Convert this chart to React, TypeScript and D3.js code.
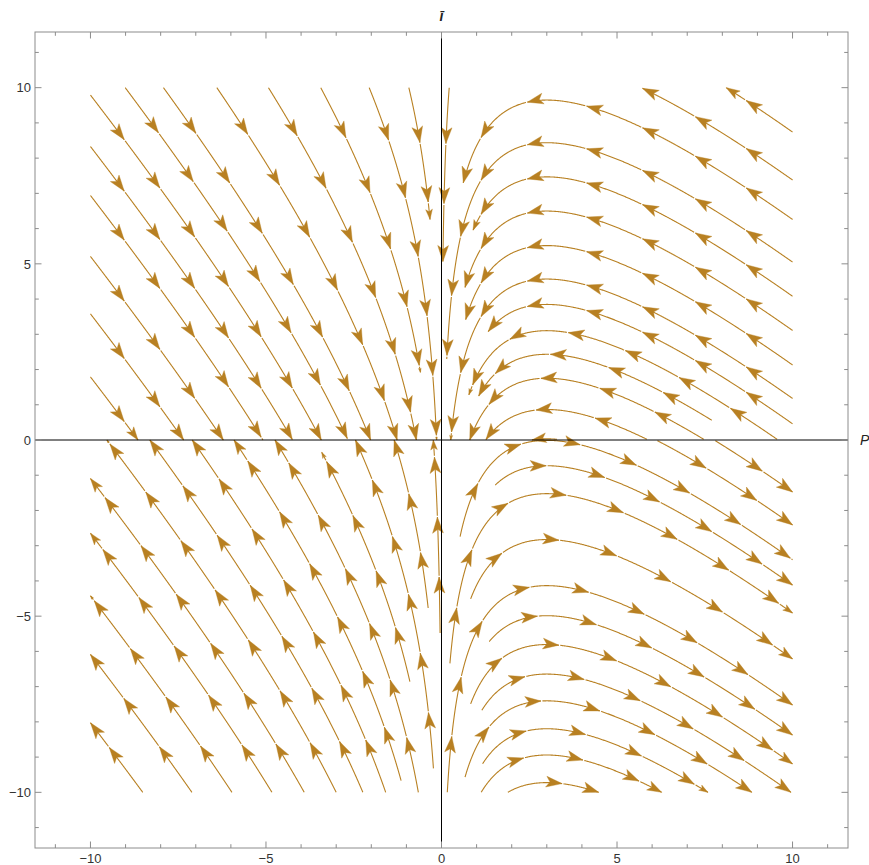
import React, { useEffect, useRef } from "react";
import * as d3 from "d3";

const W = 869;
const H = 865;
const frame = { left: 35, right: 848, top: 32, bottom: 848 };
const plotRange = 11.58; // both axes run from -plotRange to plotRange
const fieldBox = 10; // streamlines are drawn inside [-10, 10] x [-10, 10]
const streamColor = "#b88022";

const majorTicks = [-10, -5, 0, 5, 10];
const minorTicks = [-11, -9, -8, -7, -6, -4, -3, -2, -1, 1, 2, 3, 4, 6, 7, 8, 9, 11];
const tickLabels = ["\u221210", "\u22125", "0", "5", "10"];

// seed = [x tail, y tail, stop at x (or null), stop at y (or null)]
type Seed = [number, number, number | null, number | null];

const seedsUpperLeft: Seed[] = [
  [-10, 9.79, null, null],
  [-10, 8.33, null, null],
  [-10, 6.94, null, null],
  [-10, 5.21, null, null],
  [-10, 3.58, null, null],
  [-10, 1.79, null, null],
  [-9.01, 10, null, null],
  [-7.92, 10, null, null],
  [-6.4, 10, null, null],
  [-4.93, 10, null, null],
  [-3.44, 10, null, 1.92],
  [-2.06, 10, null, null],
  [-0.93, 10, null, 6.26],
];

const seedsUpperRight: Seed[] = [
  [10, 8.74, null, null],
  [10, 7.38, null, null],
  [10, 6.26, 0.62, null],
  [10, 5.05, 0.15, null],
  [10, 4.08, 0.9, null],
  [10, 3.11, 0.67, null],
  [10, 2.13, 0.69, null],
  [10, 1.18, null, null],
  [10, 0.46, 1.33, null],
  [9.56, 0.02, 0.78, null],
  [7.7, 0.56, 1.06, null],
  [7.47, 0.02, null, null],
  [5.85, 0.02, null, null],
  [3.29, 0.02, null, null],
  [0.22, 10, 0.04, null],
];

const seedsLowerLeft: Seed[] = [
  [-8.51, -10, null, null],
  [-7.11, -10, null, null],
  [-5.97, -10, null, null],
  [-4.83, -10, null, null],
  [-3.91, -10, null, null],
  [-3.0, -10, null, null],
  [-2.24, -10, null, null],
  [-1.59, -10, null, null],
  [-0.66, -10, null, null],
  [-1.15, -9.67, null, null],
  [-0.23, -9.32, null, null],
  [-0.9, -6.86, null, -0.35],
  [-0.38, -4.77, null, null],
  [-0.04, -5.48, null, null],
];

const seedsLowerRight: Seed[] = [
  [7.8, -0.02, null, null],
  [6.15, -0.02, null, null],
  [0.53, -2.74, null, null],
  [1.53, -1.28, null, null],
  [0.24, -6.34, null, null],
  [0.83, -4.51, null, null],
  [0.165, -10, null, null],
  [1.36, -5.72, null, null],
  [0.83, -7.49, null, null],
  [1.15, -7.67, null, null],
  [0.67, -9.57, null, null],
  [1.17, -9.19, null, null],
  [1.13, -10, null, null],
  [1.89, -10, null, null],
];

// dP/dt = -P i,  di/dt = i (P - 3)
const velocity = (x: number, y: number): [number, number] => [-x * y, y * (x - 3)];

function trace(seed: Seed): [number, number][] {
  const [x0, y0, ex, ey] = seed;
  const side = y0 >= 0 ? 1 : -1;
  // the field is y * g(x): the direction only depends on x and the side of the axis
  const dir = (x: number): [number, number] => {
    const [a, b] = velocity(x, side);
    const n = Math.hypot(a, b) || 1;
    return [a / n, b / n];
  };
  const h = 0.02;
  const pts: [number, number][] = [[x0, y0]];
  let x = x0;
  let y = y0;
  for (let i = 0; i < 4000; i++) {
    const k1 = dir(x);
    const k2 = dir(x + (h / 2) * k1[0]);
    const k3 = dir(x + (h / 2) * k2[0]);
    const k4 = dir(x + h * k3[0]);
    const nx = x + (h / 6) * (k1[0] + 2 * k2[0] + 2 * k3[0] + k4[0]);
    const ny = y + (h / 6) * (k1[1] + 2 * k2[1] + 2 * k3[1] + k4[1]);
    let t = 1;
    const cut = (a: number, b: number, v: number) => {
      if ((a - v) * (b - v) < 0 || b === v) t = Math.min(t, (v - a) / (b - a));
    };
    if (Math.abs(nx) > fieldBox) cut(x, nx, Math.sign(nx) * fieldBox);
    if (Math.abs(ny) > fieldBox) cut(y, ny, Math.sign(ny) * fieldBox);
    if (side * ny <= 0) cut(y, ny, 0);
    if (ex !== null) cut(x, nx, ex);
    if (ey !== null) cut(y, ny, ey);
    if (t < 1) {
      pts.push([x + t * (nx - x), y + t * (ny - y)]);
      break;
    }
    x = nx;
    y = ny;
    pts.push([x, y]);
  }
  return pts;
}

export default function App() {
  const ref = useRef<SVGSVGElement | null>(null);

  useEffect(() => {
    const svg = d3.select(ref.current);
    svg.selectAll("*").remove();

    const xs = d3.scaleLinear().domain([-plotRange, plotRange]).range([frame.left, frame.right]);
    const ys = d3.scaleLinear().domain([-plotRange, plotRange]).range([frame.bottom, frame.top]);

    const g = svg.append("g");

    // streamlines
    const allSeeds = [...seedsUpperLeft, ...seedsUpperRight, ...seedsLowerLeft, ...seedsLowerRight];
    const line = d3.line();
    const firstTip = 56;
    const spacing = 60;
    const gap = 1.4;

    allSeeds.forEach((seed) => {
      const pts = trace(seed).map(([a, b]) => [xs(a), ys(b)] as [number, number]);
      if (pts.length < 2) return;
      const cum: number[] = [0];
      for (let i = 1; i < pts.length; i++) {
        cum.push(cum[i - 1] + Math.hypot(pts[i][0] - pts[i - 1][0], pts[i][1] - pts[i - 1][1]));
      }
      const total = cum[cum.length - 1];
      const at = (s: number) => {
        let i = d3.bisectLeft(cum, s);
        i = Math.max(1, Math.min(pts.length - 1, i));
        const seg = cum[i] - cum[i - 1] || 1;
        const f = (s - cum[i - 1]) / seg;
        const p: [number, number] = [
          pts[i - 1][0] + f * (pts[i][0] - pts[i - 1][0]),
          pts[i - 1][1] + f * (pts[i][1] - pts[i - 1][1]),
        ];
        const ux = (pts[i][0] - pts[i - 1][0]) / seg;
        const uy = (pts[i][1] - pts[i - 1][1]) / seg;
        return { p, u: [ux, uy] as [number, number] };
      };
      const slice = (s0: number, s1: number) => {
        const out: [number, number][] = [at(s0).p];
        for (let i = 0; i < pts.length; i++) if (cum[i] > s0 && cum[i] < s1) out.push(pts[i]);
        out.push(at(s1).p);
        return out;
      };

      const tips: { s: number; k: number }[] = [];
      for (let s = firstTip; s <= total; s += spacing) tips.push({ s, k: 1 });
      const last = tips.length ? tips[tips.length - 1].s : 0;
      const rem = total - last;
      if (rem > 4) tips.push({ s: total, k: Math.min(1, rem / 28) });

      let start = 0;
      tips.forEach(({ s }) => {
        if (s - start > 0.5) {
          g.append("path")
            .attr("d", line(slice(start, s)))
            .attr("fill", "none")
            .attr("stroke", streamColor)
            .attr("stroke-width", 1.1);
        }
        start = s + gap;
      });
      if (total - start > 0.5) {
        g.append("path")
          .attr("d", line(slice(start, total)))
          .attr("fill", "none")
          .attr("stroke", streamColor)
          .attr("stroke-width", 1.1);
      }

      tips.forEach(({ s, k }) => {
        const { p, u } = at(Math.max(0.01, Math.min(total, s)));
        const n = [-u[1], u[0]];
        const L = 16 * k;
        const w = 5.4 * k;
        const notch = 3.8 * k;
        const b = [p[0] - L * u[0], p[1] - L * u[1]];
        const pts2 = [
          [p[0], p[1]],
          [b[0] + w * n[0], b[1] + w * n[1]],
          [p[0] - (L - notch) * u[0], p[1] - (L - notch) * u[1]],
          [b[0] - w * n[0], b[1] - w * n[1]],
        ];
        g.append("path")
          .attr("d", "M" + pts2.map((q) => q.join(",")).join("L") + "Z")
          .attr("fill", streamColor)
          .attr("stroke", streamColor)
          .attr("stroke-width", 0.4)
          .attr("stroke-linejoin", "miter");
      });
    });

    // axes through the origin
    g.append("line")
      .attr("x1", frame.left)
      .attr("x2", frame.right)
      .attr("y1", ys(0))
      .attr("y2", ys(0))
      .attr("stroke", "#000")
      .attr("stroke-width", 1);
    g.append("line")
      .attr("x1", xs(0))
      .attr("x2", xs(0))
      .attr("y1", frame.top)
      .attr("y2", frame.bottom)
      .attr("stroke", "#000")
      .attr("stroke-width", 1);

    // frame
    const frameColor = "#8c8c8c";
    g.append("rect")
      .attr("x", frame.left)
      .attr("y", frame.top)
      .attr("width", frame.right - frame.left)
      .attr("height", frame.bottom - frame.top)
      .attr("fill", "none")
      .attr("stroke", frameColor)
      .attr("stroke-width", 1);

    const ticks = [
      ...majorTicks.map((v) => ({ v, len: 6.5 })),
      ...minorTicks.map((v) => ({ v, len: 3.8 })),
    ];
    ticks.forEach(({ v, len }) => {
      const x = xs(v);
      const y = ys(v);
      [
        [x, frame.bottom, x, frame.bottom - len],
        [x, frame.top, x, frame.top + len],
        [frame.left, y, frame.left + len, y],
        [frame.right, y, frame.right - len, y],
      ].forEach(([x1, y1, x2, y2]) => {
        g.append("line")
          .attr("x1", x1)
          .attr("y1", y1)
          .attr("x2", x2)
          .attr("y2", y2)
          .attr("stroke", frameColor)
          .attr("stroke-width", 1);
      });
    });

    const font = "'Liberation Sans', Arial, sans-serif";
    majorTicks.forEach((v, i) => {
      g.append("text")
        .attr("x", xs(v))
        .attr("y", frame.bottom + 14.5)
        .attr("text-anchor", "middle")
        .attr("font-family", font)
        .attr("font-size", 13)
        .attr("fill", "#333")
        .text(tickLabels[i]);
      g.append("text")
        .attr("x", frame.left - 4)
        .attr("y", ys(v))
        .attr("dy", "0.36em")
        .attr("text-anchor", "end")
        .attr("font-family", font)
        .attr("font-size", 13)
        .attr("fill", "#333")
        .text(tickLabels[i]);
    });

    g.append("text")
      .attr("x", frame.right + 12)
      .attr("y", ys(0) + 5)
      .attr("font-family", font)
      .attr("font-style", "italic")
      .attr("font-size", 14)
      .attr("fill", "#222")
      .text("P");
    g.append("text")
      .attr("x", xs(0))
      .attr("y", 21)
      .attr("text-anchor", "middle")
      .attr("font-family", font)
      .attr("font-style", "italic")
      .attr("font-weight", "bold")
      .attr("font-size", 14)
      .attr("fill", "#222")
      .text("\u012b");
  }, []);

  return (
    <svg
      ref={ref}
      width={W}
      height={H}
      style={{ position: "absolute", left: 0, top: 0, background: "#fff" }}
    />
  );
}
